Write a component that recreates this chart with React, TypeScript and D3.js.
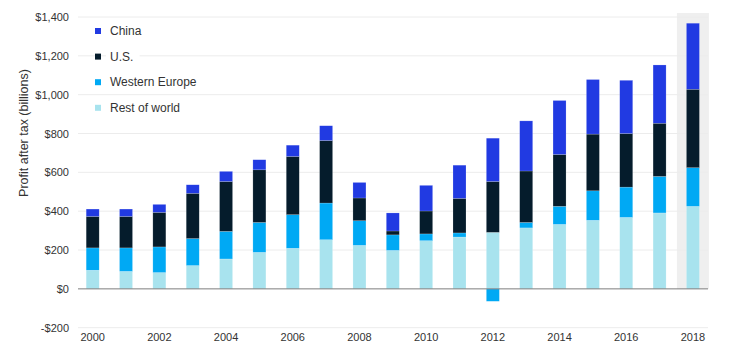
import React from "react";
import * as d3 from "d3";

const years = [2000, 2001, 2002, 2003, 2004, 2005, 2006, 2007, 2008, 2009, 2010, 2011, 2012, 2013, 2014, 2015, 2016, 2017, 2018];
const restOfWorld = [96, 90, 84, 120, 154, 188, 209, 253, 224, 198, 248, 267, 291, 314, 332, 353, 368, 391, 425];
const westernEurope = [115, 121, 132, 139, 142, 154, 173, 189, 127, 80, 35, 21, -64, 28, 93, 152, 156, 188, 199];
const us = [162, 162, 178, 233, 257, 271, 300, 322, 117, 20, 118, 178, 262, 265, 267, 292, 276, 274, 404];
const china = [38, 38, 41, 44, 52, 52, 58, 76, 80, 93, 132, 171, 223, 258, 278, 281, 274, 300, 340];

const seriesKeys = ["Rest of world", "Western Europe", "U.S.", "China"];
const seriesColors = ["#a8e3ee", "#00a9f4", "#051c2c", "#213ae2"];
const legendOrder = ["China", "U.S.", "Western Europe", "Rest of world"];
const yTicks = [-200, 0, 200, 400, 600, 800, 1000, 1200, 1400];
const xTickYears = [2000, 2002, 2004, 2006, 2008, 2010, 2012, 2014, 2016, 2018];
const highlightYear = 2018;

const FONT = "'Liberation Sans', Arial, sans-serif";

export default function App() {
  const W = 744, H = 357;
  const rows = years.map((y, i) => ({
    year: y,
    "Rest of world": restOfWorld[i],
    "Western Europe": westernEurope[i],
    "U.S.": us[i],
    China: china[i],
  }));
  const stack = d3.stack<any>().keys(seriesKeys).offset(d3.stackOffsetDiverging);
  const stacked = stack(rows);

  const x = d3.scaleBand<number>().domain(years).range([76, 709.6]).paddingInner(0.61).paddingOuter(0.305);
  const y = d3.scaleLinear().domain([-200, 1400]).range([327.7, 17]);
  const color = d3.scaleOrdinal<string, string>().domain(seriesKeys).range(seriesColors);
  const bw = x.bandwidth();
  const hx = (x(highlightYear) as number) + bw / 2;
  const fmt = (v: number) => (v < 0 ? "-$" : "$") + d3.format(",")(Math.abs(v));

  return (
    <svg width={W} height={H} style={{ position: "absolute", left: 0, top: 0, background: "#fff" }} fontFamily={FONT}>
      <rect x={hx - 16} y={13} width={32} height={y(0) - 13} fill="#efefef" />
      {yTicks.filter((t) => t !== 0).map((t) => (
        <line key={t} x1={78} x2={708} y1={y(t)} y2={y(t)} stroke="#ececec" strokeWidth={1} />
      ))}
      {yTicks.map((t) => (
        <text key={"l" + t} x={69} y={y(t)} textAnchor="end" dominantBaseline="central" fontSize={11} fill="#333">
          {fmt(t)}
        </text>
      ))}
      <text
        transform={`translate(24,133) rotate(-90)`}
        textAnchor="middle"
        dominantBaseline="central"
        fontSize={12.5}
        fill="#333"
      >
        Profit after tax (billions)
      </text>
      {stacked.map((s) => (
        <g key={s.key} fill={color(s.key)}>
          {s.map((d: any, i: number) => (
            <rect
              key={i}
              x={x(d.data.year)}
              width={bw}
              y={y(Math.max(d[0], d[1]))}
              height={Math.abs(y(d[0]) - y(d[1]))}
              stroke="#ffffff"
              strokeOpacity={0.35}
              strokeWidth={0.5}
            />
          ))}
        </g>
      ))}
      <line x1={78} x2={708} y1={y(0)} y2={y(0)} stroke="#7d7d7d" strokeWidth={1} />
      {xTickYears.map((yr) => (
        <text key={yr} x={(x(yr) as number) + bw / 2} y={337} textAnchor="middle" dominantBaseline="central" fontSize={11} fill="#333">
          {yr}
        </text>
      ))}
      {legendOrder.map((k, i) => {
        const cy = 31 + i * 25.6;
        const tw = k.length * 6.4 + 8;
        return (
          <g key={k}>
            <rect x={106} y={cy - 10} width={tw} height={20} fill="#fff" />
            <rect x={95} y={cy - 3} width={6} height={6} fill={color(k)} />
            <text x={110} y={cy} dominantBaseline="central" fontSize={12} fill="#333">
              {k}
            </text>
          </g>
        );
      })}
    </svg>
  );
}
